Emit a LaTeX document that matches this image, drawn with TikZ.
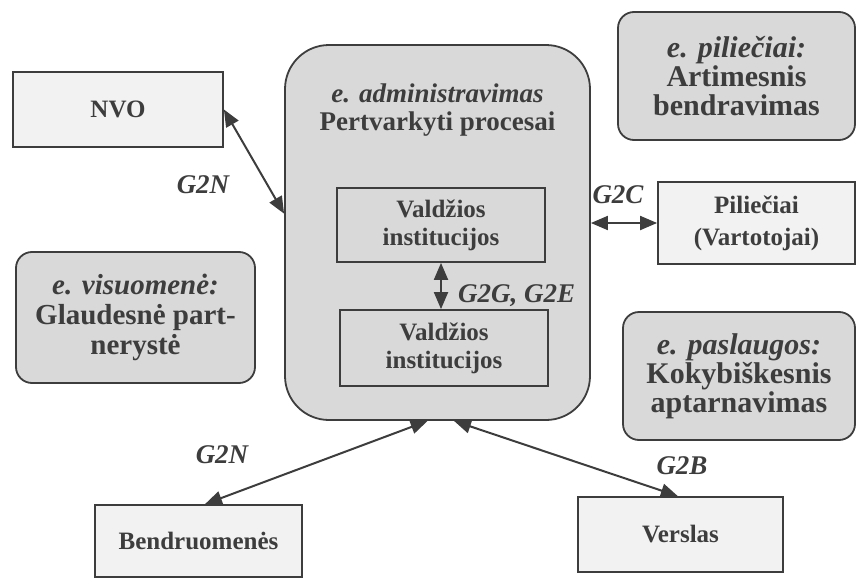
\documentclass[tikz,border=0pt]{standalone}
\usepackage{fontspec}
\setmainfont{Liberation Serif}
\usetikzlibrary{arrows.meta}
\definecolor{rasalas}{gray}{0.24}
\definecolor{pilka}{gray}{0.85}
\definecolor{sviesi}{gray}{0.95}
\tikzset{
  dezute/.style={draw=rasalas, line width=0.9pt, fill=sviesi, align=center, inner sep=0pt,
    text=rasalas, font=\bfseries\fontsize{12.5}{14}\selectfont},
  vidine/.style={dezute, fill=pilka},
  apvali/.style={dezute, rounded corners=8pt, fill=pilka, font=\bfseries\fontsize{14.5}{15}\selectfont},
  rodykle/.style={draw=rasalas, line width=1pt,
    {Triangle[length=8.5pt,width=7pt]}-{Triangle[length=8.5pt,width=7pt]}},
  zyme/.style={text=rasalas, font=\bfseries\itshape\fontsize{13.5}{15}\selectfont},
}
\begin{document}
\begin{tikzpicture}[x=0.5pt, y=-0.5pt]
    \useasboundingbox (0,0) rectangle (857,578);

    % e. administravimas (centrinis blokas)
    \node[apvali, rounded corners=22pt, minimum width=152.5pt, minimum height=187.5pt] (admin) at (437.5,232.5) {};
    \node[zyme, align=center, font=\bfseries\fontsize{13.5}{14}\selectfont] (adminpav) at (437.5,110)
        {\textit{e. administravimas}\\Pertvarkyti procesai};

    % Valdzios institucijos (dvi vidines dezutes)
    \node[vidine, minimum width=104pt, minimum height=37pt] (inst1) at (441,225) {Valdžios\\institucijos};
    \node[vidine, minimum width=104pt, minimum height=38pt] (inst2) at (444,348) {Valdžios\\institucijos};
    \draw[rodykle] (inst1.south) -- (inst1.south |- inst2.north);
    \node[zyme, anchor=west] (g2g) at (451,296) {G2G, G2E};

    % NVO
    \node[dezute, minimum width=105pt, minimum height=37.5pt] (nvo) at (118,109.5) {NVO};
    \draw[rodykle] (nvo.east) -- (admin.173);
    \node[zyme] (g2n1) at (203,185) {G2N};

    % Pilieciai
    \node[dezute, minimum width=98.5pt, minimum height=41pt, font=\bfseries\fontsize{12.5}{16}\selectfont] (pil) at (756.5,223)
        {Piliečiai\\(Vartotojai)};
    \draw[rodykle] (pil.west) -- (pil.west -| admin.east);
    \node[zyme] (g2c) at (618,195) {G2C};

    % Bendruomenes ir Verslas
    \node[dezute, minimum width=103.5pt, minimum height=36pt] (bendr) at (198.5,541) {Bendruomenės};
    \node[dezute, minimum width=102.5pt, minimum height=37.5pt] (versl) at (680.5,534.5) {Verslas};
    \draw[rodykle] (admin.267) -- (bendr.80);
    \draw[rodykle] (admin.275) -- (versl.94);
    \node[zyme] (g2n2) at (222,455) {G2N};
    \node[zyme] (g2b) at (682,466) {G2B};

    % e. sritys (apvalios dezutes)
    \node[apvali, minimum width=118.5pt, minimum height=64pt, font=\bfseries\fontsize{15}{14.5}\selectfont] (epil) at (736.5,76)
        {\textit{e. piliečiai:}\\Artimesnis\\bendravimas};
    \node[apvali, minimum width=119.5pt, minimum height=65.5pt] (evis) at (135.5,317.5)
        {\textit{e. visuomenė:}\\Glaudesnė part-\\nerystė};
    \node[apvali, minimum width=116pt, minimum height=64pt, font=\bfseries\fontsize{15}{14.5}\selectfont] (epasl) at (739,376)
        {\textit{e. paslaugos:}\\Kokybiškesnis\\aptarnavimas};
\end{tikzpicture}
\end{document}
